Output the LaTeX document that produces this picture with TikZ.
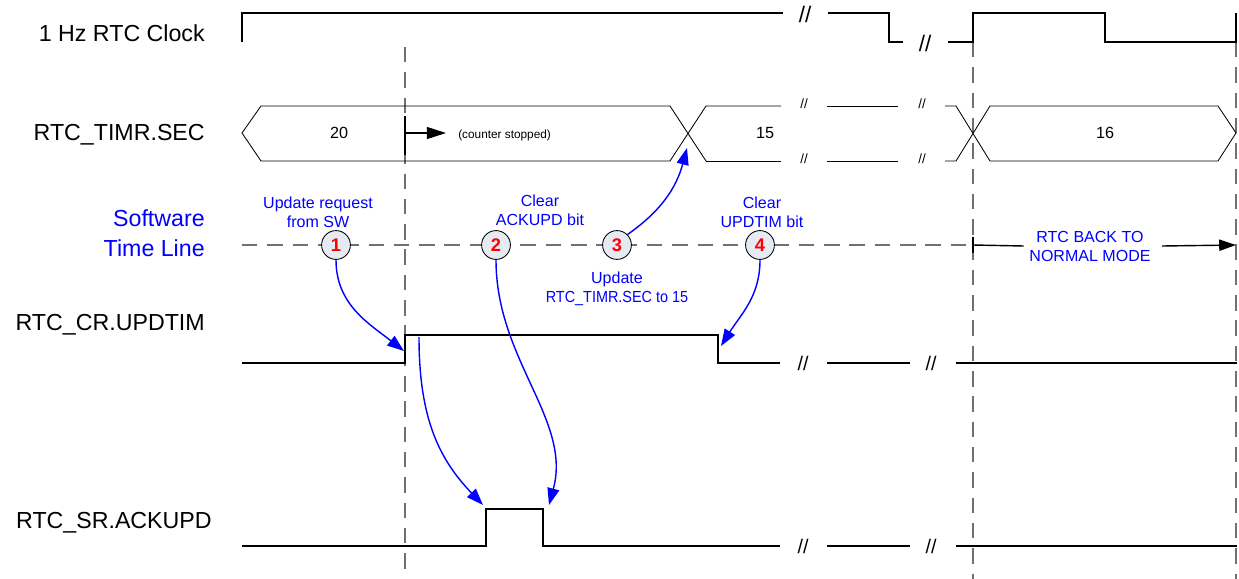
\documentclass[tikz,border=0pt]{standalone}
\usepackage{fontspec}
\setmainfont{Liberation Sans}
\usepackage{xcolor}
\definecolor{swblue}{HTML}{0000FF}
\definecolor{numred}{HTML}{FF0000}
\definecolor{guidegray}{HTML}{707070}
\definecolor{bubble}{HTML}{E6EBF3}
\usetikzlibrary{arrows.meta}
\tikzset{
  >={Triangle[length=4.2mm,width=3mm]},
  sig/.style     ={draw=black,line width=1.4pt},
  bus/.style     ={draw=black,line width=0.6pt},
  guide/.style   ={draw=guidegray,line width=1pt,dash pattern=on 11pt off 7pt},
  signame/.style ={font=\fontsize{16.5}{19}\selectfont,anchor=east,inner sep=0pt},
  swlabel/.style ={font=\fontsize{16.5}{21}\selectfont,text=swblue,align=right,anchor=east,inner sep=0pt},
  note/.style    ={font=\fontsize{11.4}{13.5}\selectfont,text=swblue,align=center,inner sep=0pt},
  marker/.style  ={circle,draw=black,fill=bubble,line width=0.6pt,minimum size=20.5pt,
                   inner sep=0pt,font=\fontsize{13}{13}\selectfont\bfseries,text=numred},
  brk/.style     ={font=\fontsize{16}{16}\selectfont,inner sep=0pt},
  sigbrk/.style  ={font=\fontsize{14}{14}\selectfont,inner sep=0pt},
  busbrk/.style  ={font=\fontsize{9.5}{9.5}\selectfont,inner sep=0pt},
  val/.style     ={font=\fontsize{11.5}{13}\selectfont,inner sep=0pt},
  cause/.style   ={->,draw=swblue,line width=1pt},
}

\begin{document}
\begin{tikzpicture}[x=0.025cm,y=-0.025cm]
\useasboundingbox (0,0) rectangle (1239,579);
% signal names
\node[signame] (nclk) at (205,33) {1 Hz RTC Clock};
\node[signame] (ntimr) at (205,135) {RTC\_TIMR.SEC};
\node[swlabel] (nsw) at (205,233) {Software\\Time Line};
\node[signame] (nupd) at (205,325) {RTC\_CR.UPDTIM};
\node[signame] (nack) at (212,523) {RTC\_SR.ACKUPD};
% guide lines
\draw[guide] (405,47) -- (405,574);
\draw[guide] (973,42) -- (973,579);
\draw[guide] (1236,42) -- (1236,579);
\draw[guide] (242,245) -- (973,245);
% 1 Hz clock
\draw[sig] (242,42) -- (242,13) -- (783,13);
\node[brk] (b1) at (805,14) {//};
\draw[sig] (828,13) -- (889,13) -- (889,42) -- (903,42);
\node[brk] (b2) at (925,43) {//};
\draw[sig] (948,42) -- (973,42) -- (973,13) -- (1105,13) -- (1105,42) -- (1236,42) -- (1236,13);
% RTC_TIMR.SEC bus
\draw[bus] (706,161) -- (670,106) -- (261,106) -- (242,133) -- (261,161) -- (670,161) -- (706,106) -- (781,106);
\draw[bus] (706,161) -- (781,161);
\draw[bus] (827,106) -- (898,106);
\draw[bus] (827,161) -- (898,161);
\draw[bus] (945,106) -- (956,106) -- (990,161) -- (1218,161) -- (1236,133) -- (1218,106) -- (990,106) -- (956,161) -- (945,161);
\node[busbrk] (t1) at (804,104) {//};
\node[busbrk] (t2) at (804,159) {//};
\node[busbrk] (t3) at (922,104) {//};
\node[busbrk] (t4) at (922,159) {//};
\node[val] (v20) at (339,133) {20};
\node[val] (v15) at (765,133) {15};
\node[val] (v16) at (1105,133) {16};
\coordinate (stop) at (405,133);
\draw[sig] (405,116) -- (405,155);
\node[font=\fontsize{8.4}{10}\selectfont,anchor=west,inner sep=0pt] (stopped) at (458,135) {(counter stopped)};
\draw[line width=1pt,-{Triangle[length=4.8mm,width=3mm]}] (stop) -- (446,133);
% software time line
\node[marker] (m1) at (336,245) {1};
\node[marker] (m2) at (496,245) {2};
\node[marker] (m3) at (617,245) {3};
\node[marker] (m4) at (760,245) {4};
\node[note] (req) at (318,212) {Update request\\from SW};
\node[note] (clrack) at (540,210) {Clear\\ACKUPD bit};
\node[note] (clrupd) at (762,212) {Clear\\UPDTIM bit};
\node[note] (setsec) at (617,289) {Update\\\scalebox{0.9}[1]{RTC\_TIMR.SEC to 15}};
\node[note,inner xsep=4pt] (mode) at (1090,246) {RTC BACK TO\\NORMAL MODE};
\coordinate (mode0) at (973,245);
\coordinate (mode1) at (1236,245);
\draw[line width=1pt] (973,237) -- (973,253);
\draw[line width=1pt] (mode0) -- (mode.west);
\draw[line width=1pt,-{Triangle[length=4.2mm,width=2.8mm]}] ([xshift=4pt]mode.east) -- (mode1);
% RTC_CR.UPDTIM
\draw[sig] (242,363) -- (405,363) -- (405,335) -- (718,335) -- (718,363) -- (780,363);
\draw[sig] (827,363) -- (910,363);
\draw[sig] (956,363) -- (1237,363);
\node[sigbrk] (u1) at (803,363) {//};
\node[sigbrk] (u2) at (931,363) {//};
% RTC_SR.ACKUPD
\draw[sig] (242,546) -- (486,546) -- (486,509) -- (543,509) -- (543,546) -- (780,546);
\draw[sig] (827,546) -- (910,546);
\draw[sig] (956,546) -- (1237,546);
\node[sigbrk] (a1) at (803,546) {//};
\node[sigbrk] (a2) at (931,546) {//};
% cause arrows
\coordinate (updrise) at (404,351);
\coordinate (updhigh) at (419,337);
\coordinate (updfall) at (721,346);
\coordinate (ackrise) at (483,505);
\coordinate (ackfall) at (549,505);
\coordinate (secx) at (687,148);
\draw[cause] (m1.south) to[out=-90,in=142] (updrise);
\draw[cause] (m2.south) .. controls (496,360) and (572,420) .. (ackfall);
\draw[cause] (updhigh) .. controls (419,420) and (440,460) .. (ackrise);
\draw[cause] (m4.south) to[out=-90,in=58] (updfall);
\draw[cause] (m3.north east) to[out=35,in=-105] (secx);
\end{tikzpicture}
\end{document}
